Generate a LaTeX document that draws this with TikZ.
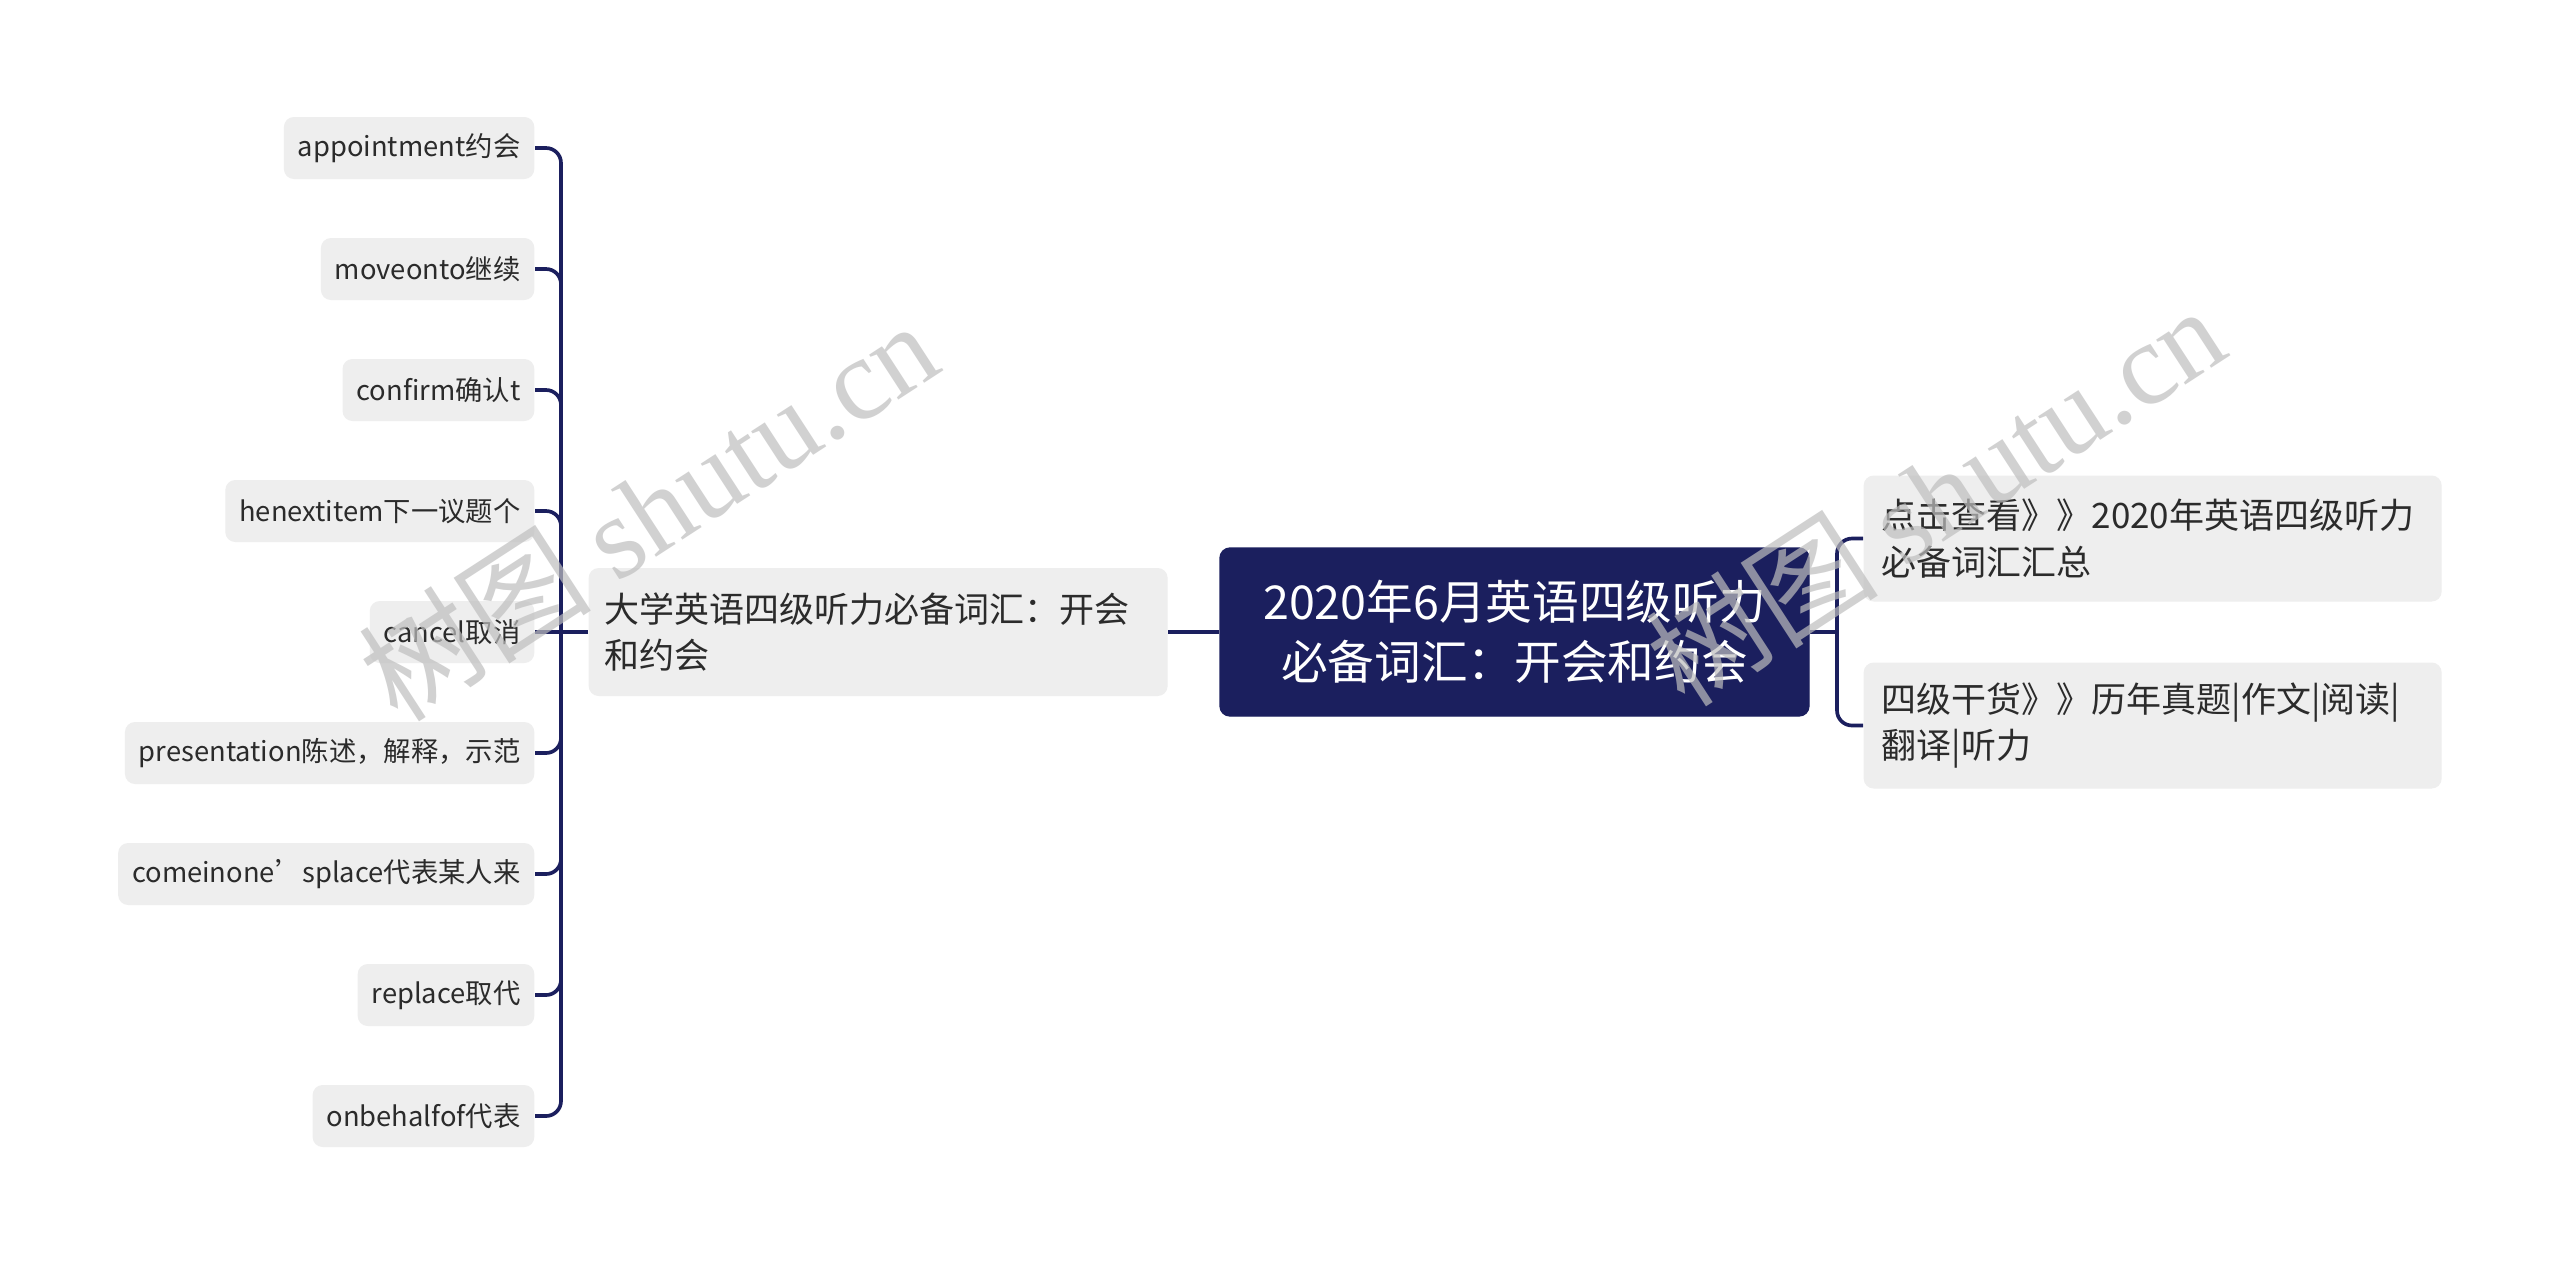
\documentclass[tikz,border=0pt]{standalone}
\usepackage{fontspec}
\setmainfont{Noto Sans CJK SC}
\newfontfamily\cjkwm{Noto Sans CJK SC}
\newfontfamily\wmserif{Liberation Serif}
\definecolor{navy}{HTML}{1B1F5E}
\definecolor{leafgray}{HTML}{EEEEEE}
\definecolor{txt}{HTML}{2B2B2B}
\definecolor{wmgray}{RGB}{190,190,190}
\tikzset{
  leafbox/.style={fill=leafgray, rounded corners=3pt, text=txt,
    font=\fontsize{8.2}{10}\selectfont, inner xsep=4.2pt, inner ysep=0pt,
    minimum height=18.6pt, anchor=east},
  midbox/.style={fill=leafgray, rounded corners=3pt, text=txt,
    font=\fontsize{10.5}{14}\selectfont, align=left, text width=164.1pt,
    inner xsep=4.8pt, inner ysep=0pt, minimum height=38.4pt, anchor=west},
  rightbox/.style={fill=leafgray, rounded corners=3pt, text=txt,
    font=\fontsize{10.5}{14}\selectfont, align=left, text width=162.6pt,
    inner xsep=5.4pt, inner ysep=0pt, minimum height=37.8pt, anchor=west},
  rootbox/.style={fill=navy, draw=navy, rounded corners=3pt, text=white,
    font=\fontsize{14}{18}\selectfont, align=center, inner sep=0pt,
    minimum width=176.7pt, minimum height=50.4pt},
  conn/.style={draw=navy, line width=1.1pt, rounded corners=4.5pt},
  wm/.style={text=wmgray, text opacity=0.7, rotate=33, inner sep=0pt,
    font=\fontsize{35}{40}\selectfont}
}
\begin{document}
\begin{tikzpicture}[x=0.3pt,y=-0.3pt]
\fill[white] (0,0) rectangle (2560,1264);
\useasboundingbox (0,0) rectangle (2560,1264);

% nodes
\node[rootbox] (root) at (1514.5,632) {2020年6月英语四级听力\\必备词汇：开会和约会};
\node[midbox] (mid) at (588,632) {大学英语四级听力必备词汇：开会\\和约会};
\node[rightbox] (r1) at (1863,538.5) {点击查看》》2020年英语四级听力\\必备词汇汇总};
\node[rightbox] (r2) at (1863,725.5) {四级干货》》历年真题|作文|阅读|\\翻译|听力};

\node[leafbox] (l1) at (535,148) {appointment约会};
\node[leafbox] (l2) at (535,269) {moveonto继续};
\node[leafbox] (l3) at (535,390) {confirm确认t};
\node[leafbox] (l4) at (535,511) {henextitem下一议题个};
\node[leafbox] (l5) at (535,632) {cancel取消};
\node[leafbox] (l6) at (535,753) {presentation陈述，解释，示范};
\node[leafbox] (l7) at (535,874) {comeinone’splace代表某人来};
\node[leafbox] (l8) at (535,995) {replace取代};
\node[leafbox] (l9) at (535,1116) {onbehalfof代表};

% connectors
\coordinate (lj) at (561,632);
\coordinate (rj) at (1837,632);
\draw[conn] (mid.west) -- (lj);
\draw[conn] (l5.east) -- (lj);
\foreach \n in {l1,l2,l3,l4,l6,l7,l8,l9}{
  \draw[conn] (\n.east) -| (lj);
}
\draw[conn] (root.west) -- (mid.east);
\draw[conn] (root.east) -- (rj);
\draw[conn] (rj) |- (r1.west);
\draw[conn] (rj) |- (r2.west);

% watermarks
\node[wm] (wm1) at (648,510) {{\cjkwm 树图} {\wmserif shutu.cn}};
\node[wm] (wm2) at (1935,495) {{\cjkwm 树图} {\wmserif shutu.cn}};
\end{tikzpicture}
\end{document}
